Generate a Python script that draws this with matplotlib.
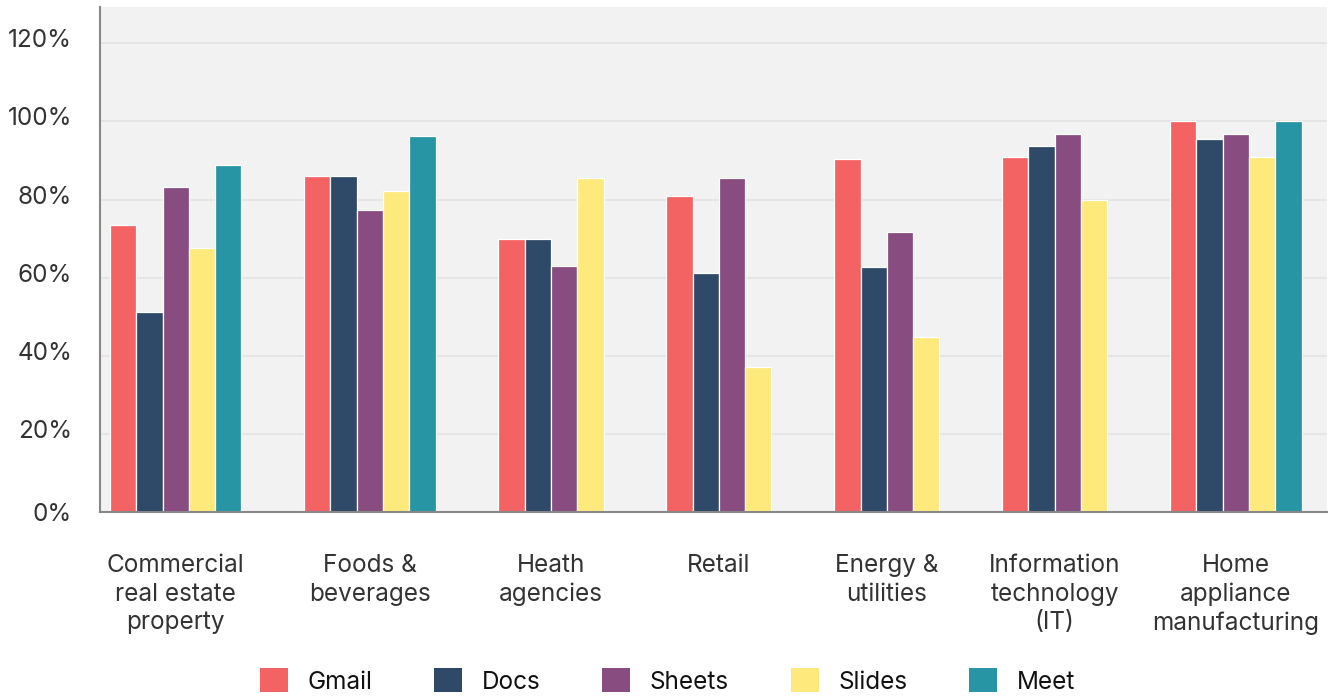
import matplotlib
matplotlib.use("Agg")
import matplotlib.pyplot as plt
import matplotlib.transforms as mtransforms
from matplotlib.patches import Patch

plt.rcParams['font.family'] = ['Inter', 'DejaVu Sans']

categories = ["Commercial\nreal estate\nproperty", "Foods &\nbeverages", "Heath\nagencies",
              "Retail", "Energy &\nutilities", "Information\ntechnology\n(IT)",
              "Home\nappliance\nmanufacturing"]
series_names = ["Gmail", "Docs", "Sheets", "Slides", "Meet"]
gmail = [73.5, 86.0, 70.0, 81.0, 90.4, 91.0, 100.0]
docs = [51.2, 86.0, 70.0, 61.3, 62.8, 93.8, 95.4]
sheets = [83.2, 77.4, 63.0, 85.4, 71.7, 96.8, 96.8]
slides = [67.6, 82.2, 85.4, 37.0, 44.8, 80.0, 91.0]
meet = [88.8, 96.2, None, None, None, None, 100.0]
colors = ["#f46363", "#2f4968", "#884c80", "#feea7c", "#2795a4"]

series = [gmail, docs, sheets, slides, meet]

FS = 17.5

fig = plt.figure(figsize=(13.35, 6.97), dpi=100)
ax = fig.add_axes([100 / 1335, 1 - 512 / 697, 1227 / 1335, 505 / 697])
ax.set_facecolor("#f2f2f2")

# bars placed one after another, missing values take no slot
BAR_W = 1.0
GAP = 2.39
x = 0.38
centers = []
for i in range(len(categories)):
    start = x
    for s, vals in enumerate(series):
        v = vals[i]
        if v is None:
            continue
        ax.bar(x + BAR_W / 2, v, width=BAR_W, color=colors[s], edgecolor="white",
               linewidth=0.9, zorder=3)
        x += BAR_W
    centers.append((start + x) / 2)
    x += GAP
x = x - GAP + 0.97

ax.set_xlim(0, x)
ax.set_ylim(0, 129.3)
ax.set_yticks([0, 20, 40, 60, 80, 100, 120])
ax.set_yticklabels([f"{v}%" for v in [0, 20, 40, 60, 80, 100, 120]])
ax.set_xticks(centers)
ax.set_xticklabels(categories, linespacing=1.3)

ax.tick_params(axis="y", length=0, pad=20, labelsize=FS, labelcolor="#333333")
ax.tick_params(axis="x", length=0, pad=30.5, labelsize=FS, labelcolor="#333333")
# labels sit a little above their gridlines, except the 0% one
off = mtransforms.ScaledTranslation(0, 5 / 100, fig.dpi_scale_trans)
for lab in ax.get_yticklabels()[1:]:
    lab.set_transform(lab.get_transform() + off)

ax.grid(axis="y", color="#e3e3e3", linewidth=1.2, zorder=0)
ax.set_axisbelow(True)
for side in ["top", "right"]:
    ax.spines[side].set_visible(False)
for side in ["left", "bottom"]:
    ax.spines[side].set_color("#888888")
    ax.spines[side].set_linewidth(1.5)
    ax.spines[side].set_zorder(4)

handles = [Patch(facecolor=c, edgecolor="none") for c in colors]
fig.legend(handles, series_names, loc="center", bbox_to_anchor=(0.5, 1 - 681 / 697),
           ncol=5, frameon=False, fontsize=FS, handlelength=1.15, handleheight=1.15,
           handletextpad=0.8, columnspacing=2.55, labelcolor="#111111")

fig.savefig("out.png", dpi=100)
